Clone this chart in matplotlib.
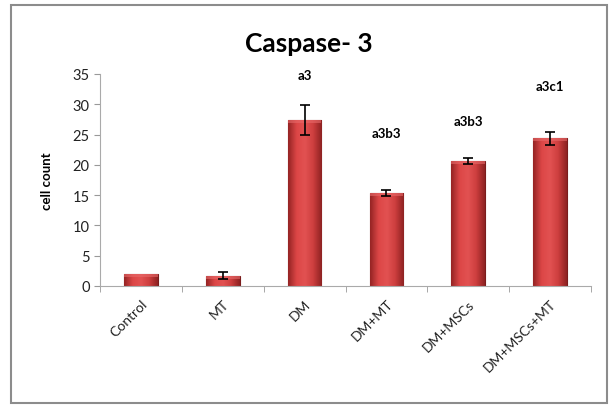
import numpy as np
import matplotlib.pyplot as plt
from matplotlib.colors import LinearSegmentedColormap
from matplotlib.patches import Rectangle

plt.rcParams['font.family'] = ['Lato', 'DejaVu Sans']

# Data
groups = ['Control', 'MT', 'DM', 'DM+MT', 'DM+MSCs', 'DM+MSCs+MT']
means = [2.0, 1.7, 27.4, 15.3, 20.7, 24.4]
errors = [0.0, 0.6, 2.5, 0.5, 0.5, 1.1]
letters = ['', '', 'a3', 'a3b3', 'a3b3', 'a3c1']
letter_y = [None, None, 34.8, 25.2, 27.3, 33.0]

fig = plt.figure(figsize=(6.09, 4.06), dpi=100)
ax = fig.add_axes([100 / 609, 1 - 287 / 406, 491 / 609, 212 / 406])

x = np.arange(len(groups))
bars = ax.bar(x, means, width=0.41, color='#cc3c3c', edgecolor='#7a1c1c',
              linewidth=0.8, zorder=2)

# shaded fill across each bar
shade = LinearSegmentedColormap.from_list(
    'shade', ['#952424', '#dc4646', '#e25252', '#cd3e3e', '#8e2222'])
grad = np.linspace(0, 1, 64).reshape(1, -1)
for b in bars:
    x0, w, h = b.get_x(), b.get_width(), b.get_height()
    im = ax.imshow(grad, cmap=shade, aspect='auto', zorder=2.5,
                   extent=(x0, x0 + w, 0, h), interpolation='bicubic')
    im.set_clip_path(b)
    # lighter bevel along the top
    ax.add_patch(Rectangle((x0, h - 0.5), w, 0.5, color='#e86a6a',
                           alpha=0.6, zorder=2.6, lw=0))

# error bars only where a spread was reported
has_err = [i for i, e in enumerate(errors) if e > 0]
ax.errorbar(x[has_err], [means[i] for i in has_err],
            yerr=[errors[i] for i in has_err], fmt='none', ecolor='black',
            elinewidth=1.2, capsize=3.5, capthick=1.2, zorder=3)

for xi, lab, ly in zip(x, letters, letter_y):
    if lab:
        ax.text(xi, ly, lab, ha='center', va='center', fontsize=9.5,
                fontweight='bold', color='black')

ax.set_xlim(-0.5, len(groups) - 0.5)
ax.set_ylim(0, 35)
ax.set_yticks(range(0, 36, 5))
ax.set_xticks(x)
ax.set_xticklabels(groups, rotation=45, ha='right', rotation_mode='anchor',
                   fontsize=10, color='#222222')
ax.set_xticks(np.arange(-0.5, len(groups), 1), minor=True)
ax.tick_params(axis='x', which='major', length=0, pad=8)
ax.tick_params(axis='x', which='minor', length=4, color='#999999',
               direction='out')
ax.tick_params(axis='y', length=4, color='#999999', labelsize=10.5,
               labelcolor='#222222')
for s in ['top', 'right']:
    ax.spines[s].set_visible(False)
ax.spines['left'].set_color('#aaaaaa')
ax.spines['bottom'].set_color('#aaaaaa')

ax.set_ylabel('cell count', fontsize=9.5, fontweight='bold', labelpad=14)
fig.text(309 / 609, 1 - 44 / 406, 'Caspase- 3', ha='center', va='center',
         fontsize=19, fontweight='bold')

# outer chart frame
fig.patches.append(Rectangle((11 / 609, 2 / 406), 596 / 609, 398 / 406,
                             transform=fig.transFigure, fill=False,
                             edgecolor='#8c8c8c', linewidth=1.5))

fig.savefig('out.png', dpi=100)
